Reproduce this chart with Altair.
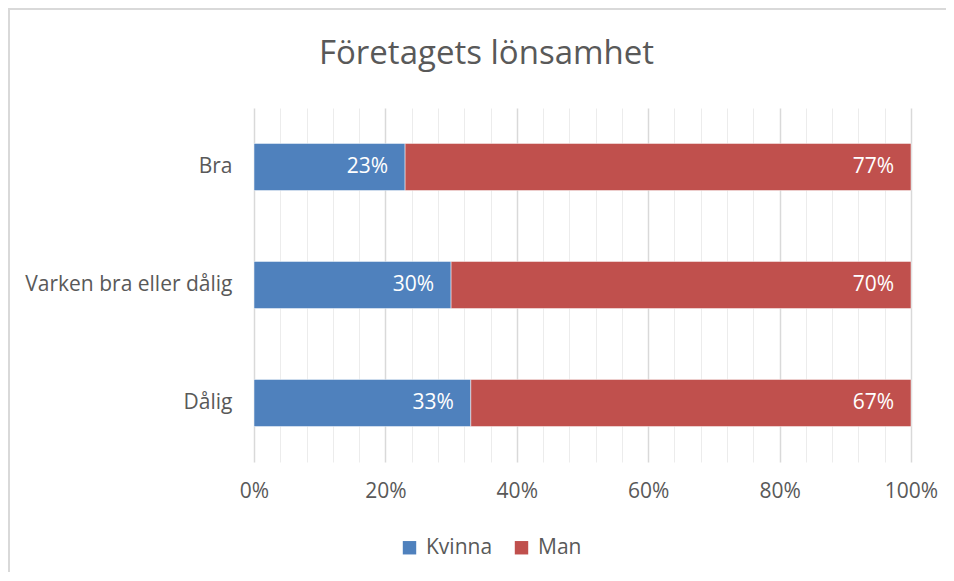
import altair as alt
import pandas as pd

categories = ["Bra", "Varken bra eller dålig", "Dålig"]
series = ["Kvinna", "Man"]
kvinna = [23, 30, 33]
man = [77, 70, 67]
colors = ["#4F81BD", "#C0504D"]
tick_values = list(range(0, 101, 4))

rows = []
for c, k, m in zip(categories, kvinna, man):
    rows.append({"cat": c, "series": "Kvinna", "value": k})
    rows.append({"cat": c, "series": "Man", "value": m})
df = pd.DataFrame(rows)

FONT = "Open Sans"
TXT = "#595959"
FS = 21

base = alt.Chart(df).transform_calculate(
    order="datum.series === 'Kvinna' ? 0 : 1"
).transform_stack(
    stack="value", groupby=["cat"], sort=[alt.SortField("order")], as_=["x0", "x1"]
)

y_enc = alt.Y(
    "cat:N",
    sort=categories,
    title=None,
    scale=alt.Scale(paddingInner=0.6, paddingOuter=0.3),
    axis=alt.Axis(domain=False, ticks=False, labelFontSize=FS, labelColor=TXT,
                  labelFont=FONT, labelPadding=22, labelLimit=400),
)

bars = base.mark_bar(stroke="white", strokeWidth=0.5).encode(
    x=alt.X(
        "x0:Q",
        scale=alt.Scale(domain=[0, 100], nice=False),
        title=None,
        axis=alt.Axis(
            values=tick_values,
            tickCount=40,
            labelExpr="datum.value % 20 === 0 ? datum.value + '%' : ''",
            labelOverlap=False,
            domain=False,
            ticks=False,
            grid=True,
            gridColor=alt.condition("datum.value % 20 === 0", alt.value("#d9d9d9"), alt.value("#ececec")),
            gridWidth=alt.condition("datum.value % 20 === 0", alt.value(1.5), alt.value(1)),
            labelFontSize=FS,
            labelColor=TXT,
            labelFont=FONT,
            labelPadding=18,
            labelFlush=False,
        ),
    ),
    x2="x1:Q",
    y=y_enc,
    color=alt.Color(
        "series:N",
        scale=alt.Scale(domain=series, range=colors),
        title=None,
        legend=alt.Legend(
            orient="none", legendX=145, legendY=429, direction="horizontal",
            symbolType="square", symbolSize=180, symbolStrokeWidth=0,
            labelFontSize=FS, labelColor=TXT, labelFont=FONT,
            columnPadding=18, labelOffset=6,
        ),
    ),
)

labels = base.mark_text(align="right", baseline="middle", dx=-17, color="white",
                        fontSize=FS, font=FONT).encode(
    x="x1:Q",
    y=alt.Y("cat:N", sort=categories),
    text=alt.Text("label:N"),
).transform_calculate(label="datum.value + '%'")

border_color = "#d9d9d9"
border_left = alt.Chart(df).mark_rule(color=border_color, strokeWidth=1.5).encode(
    x=alt.value(-245), y=alt.value(-99), y2=alt.value(464)
)
border_top = alt.Chart(df).mark_rule(color=border_color, strokeWidth=1.5).encode(
    x=alt.value(-246), x2=alt.value(692), y=alt.value(-99)
)

chart = alt.layer(bars, labels, border_left, border_top).properties(
    width=657,
    height=354,
    title=alt.TitleParams("Företagets lönsamhet", fontSize=33, font=FONT, color=TXT,
                          fontWeight="normal", anchor="middle", frame="group",
                          dx=-96, offset=-63),
    autosize=alt.AutoSizeParams(type="none"),
    padding={"left": 246, "top": 100, "right": 35, "bottom": 110},
).configure_view(stroke=None)

chart.save("out.html", embed_options={"renderer": "svg", "actions": False})
